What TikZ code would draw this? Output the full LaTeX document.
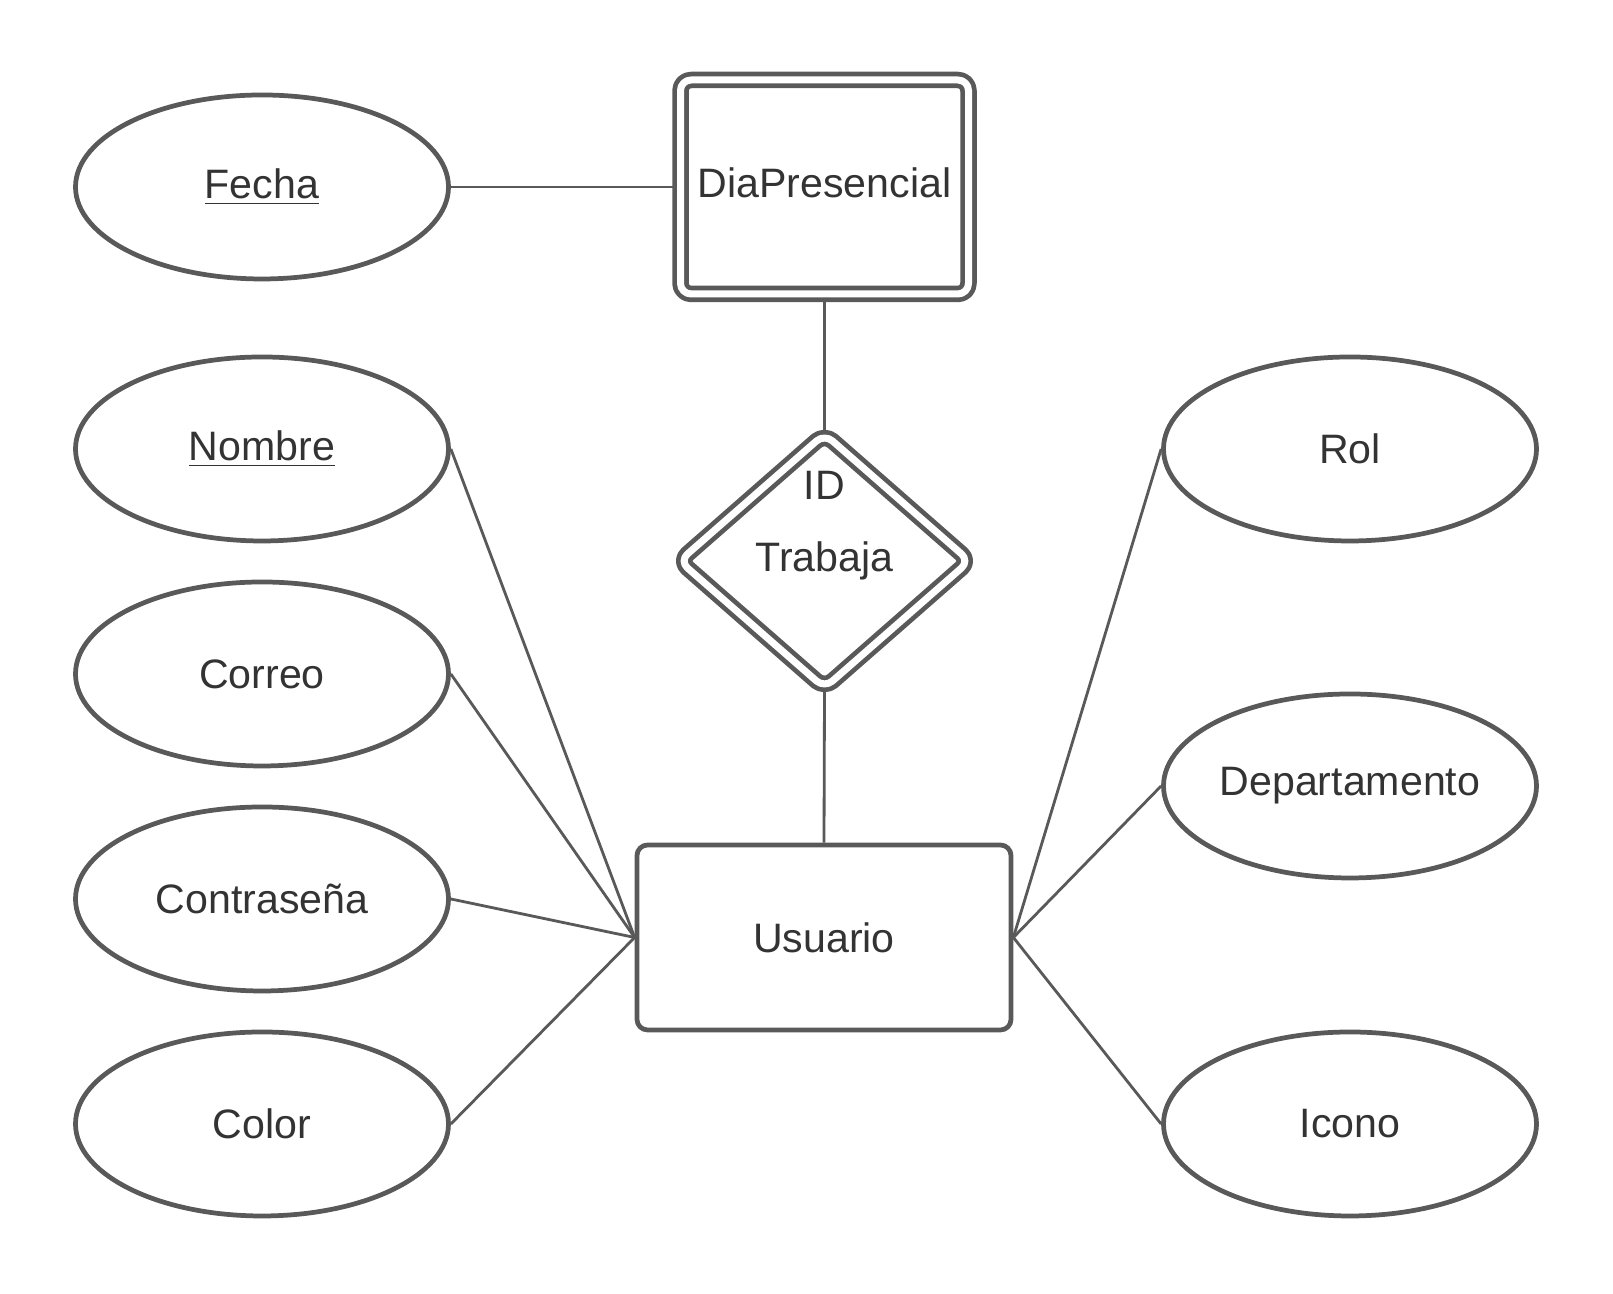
\documentclass[tikz,border=0pt]{standalone}
\usepackage{fontspec}
\setmainfont{Liberation Sans}
\usetikzlibrary{shapes.geometric,backgrounds}
\definecolor{linegray}{RGB}{89,89,89}
\definecolor{textgray}{RGB}{51,51,51}

\begin{document}
\begin{tikzpicture}[line join=round,font=\fontsize{11.7}{14}\selectfont,
  attr/.style={ellipse,draw=linegray,line width=1.35pt,fill=white,text=textgray,
    minimum width=3.73cm,minimum height=1.84cm,inner sep=0pt},
  entity/.style={rectangle,draw=linegray,line width=1.35pt,fill=white,text=textgray,
    rounded corners=3pt,minimum width=3.74cm,minimum height=1.85cm},
  weakentity/.style={rectangle,draw=linegray,line width=1.35pt,double=white,double distance=0.07cm,
    fill=white,text=textgray,rounded corners=3pt,minimum width=2.88cm,minimum height=2.14cm},
  weakrel/.style={diamond,draw=linegray,line width=1.35pt,double=white,double distance=0.07cm,
    fill=white,text=textgray,rounded corners=3pt,minimum width=2.92cm,minimum height=2.56cm,inner sep=0pt},
  link/.style={draw=linegray,line width=0.8pt}]
\useasboundingbox (0,0) rectangle (16.13,12.94);
% entities and relation
\node[weakentity] (dia) at (8.245,11.07) {\raisebox{0.09cm}{DiaPresencial}};
\node[weakrel] (trabaja) at (8.245,7.33) {Trabaja};
\node[text=textgray] (id) at (8.245,8.09) {ID};
\node[entity] (usuario) at (8.24,3.565) {Usuario};
% attributes
\node[attr] (fecha) at (2.62,11.07) {\underline{Fecha}};
\node[attr] (nombre) at (2.62,8.45) {\underline{Nombre}};
\node[attr] (correo) at (2.62,6.20) {Correo};
\node[attr] (contra) at (2.62,3.95) {Contraseña};
\node[attr] (color) at (2.62,1.70) {Color};
\node[attr] (rol) at (13.50,8.45) {Rol};
\node[attr] (depto) at (13.50,5.08) {Departamento};
\node[attr] (icono) at (13.50,1.70) {Icono};
% connectors
\begin{scope}[on background layer]
\draw[link] (fecha.east) -- (dia.west);
\draw[link] (dia.south) -- (trabaja.north);
\draw[link] (trabaja.south) -- (usuario.north);
\draw[link] (nombre.east) -- (usuario.west);
\draw[link] (correo.east) -- (usuario.west);
\draw[link] (contra.east) -- (usuario.west);
\draw[link] (color.east) -- (usuario.west);
\draw[link] (rol.west) -- (usuario.east);
\draw[link] (depto.west) -- (usuario.east);
\draw[link] (icono.west) -- (usuario.east);
\end{scope}
\end{tikzpicture}
\end{document}
